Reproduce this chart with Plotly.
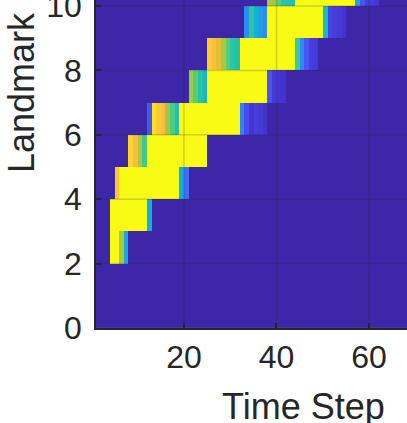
import plotly.graph_objects as go
import numpy as np

# time step edges (pcolor style: cells between integers) and landmark edges
time_edges = list(range(1, 70))
landmark_edges = list(range(0, 12))

x_ticks = [20, 40, 60]
y_ticks = [0, 2, 4, 6, 8, 10]

row_start = {
    2: 4,
    3: 4,
    4: 5,
    5: 8,
    6: 12,
    7: 21,
    8: 25,
    9: 33,
    10: 38,
}
row_values = {
    2: [1, 1, 0.72, 0.42],
    3: [1, 1, 1, 1, 1, 1, 1, 1, 0.42],
    4: [0.86, 1, 1, 1, 1, 1, 1, 1, 1, 1, 1, 1, 1, 1, 0.42, 0.22],
    5: [0.9, 0.84, 0.72, 0.58, 1, 1, 1, 1, 1, 1, 1, 1, 1, 1, 1, 1, 1],
    6: [0.15, 0.92, 0.88, 0.84, 0.7, 0.6, 0.52, 1, 1, 1, 1, 1, 1, 1, 1, 1,
        1, 1, 1, 1, 0.28, 0.12, 0.06, 0.08, 0.07, 0.05],
    7: [0.7, 0.62, 0.54, 0.47, 1, 1, 1, 1, 1, 1, 1, 1, 1, 1, 1, 1, 1,
        0.15, 0.07, 0.06, 0.05],
    8: [0.88, 0.84, 0.8, 0.72, 0.62, 0.55, 0.52, 1, 1, 1, 1, 1, 1, 1, 1,
        1, 1, 1, 1, 0.58, 0.3, 0.15, 0.08, 0.07],
    9: [0.3, 0.55, 0.45, 0.35, 0.3, 1, 1, 1, 1, 1, 1, 1, 1, 1, 1, 1, 1,
        0.5, 0.1, 0.08, 0.07, 0.05],
    10: [0.72, 0.7, 0.62, 0.55, 0.53, 0.52, 1, 1, 1, 1, 1, 1, 1, 1, 1, 1,
         1, 1, 1, 0.38, 0.15, 0.08, 0.08, 0.06],
}

z = np.zeros((len(landmark_edges) - 1, len(time_edges) - 1))
for row, vals in row_values.items():
    c0 = row_start[row] - time_edges[0]
    z[row, c0:c0 + len(vals)] = vals

# parula
parula = [
    (0.2422, 0.1504, 0.6603), (0.2706, 0.2147, 0.8364), (0.2813, 0.3006, 0.9414),
    (0.2699, 0.3892, 0.9906), (0.1963, 0.4847, 0.9892), (0.1687, 0.5703, 0.9359),
    (0.1248, 0.6459, 0.8883), (0.0297, 0.7082, 0.8163), (0.0964, 0.7500, 0.7120),
    (0.2161, 0.7843, 0.5923), (0.3909, 0.8029, 0.4354), (0.6174, 0.7876, 0.2612),
    (0.8203, 0.7498, 0.1535), (0.9728, 0.7298, 0.2394), (0.9892, 0.8136, 0.1885),
    (0.9628, 0.9373, 0.1265), (0.9769, 0.9839, 0.0805),
]
idx = [0, 4, 8, 12, 16, 20, 24, 28, 32, 36, 40, 44, 48, 52, 56, 60, 63]
colorscale = [[i / 63, "rgb(%d,%d,%d)" % tuple(round(v * 255) for v in c)]
              for i, c in zip(idx, parula)]

fig = go.Figure()
fig.add_trace(go.Heatmap(
    x=time_edges,
    y=landmark_edges,
    z=z,
    zmin=0,
    zmax=1,
    colorscale=colorscale,
    showscale=False,
    hoverinfo="skip",
))

# MATLAB draws the grid on top of the image
grid_color = "rgba(38,38,38,0.2)"
for t in x_ticks:
    fig.add_shape(type="line", xref="x", yref="paper", x0=t, x1=t, y0=0, y1=1,
                  line=dict(color=grid_color, width=1.5), layer="above")
for t in y_ticks[1:]:
    fig.add_shape(type="line", xref="paper", yref="y", x0=0, x1=1, y0=t, y1=t,
                  line=dict(color=grid_color, width=1.5), layer="above")

axis_style = dict(
    ticks="inside",
    ticklen=5,
    tickwidth=1.5,
    tickcolor="#262626",
    showline=True,
    linecolor="#262626",
    linewidth=1.5,
    showgrid=False,
    zeroline=False,
    automargin=False,
    ticklabeloverflow="allow",
    tickfont=dict(family="Liberation Sans, Arial", size=32, color="#262626"),
)
fig.update_xaxes(range=[1, 68.2], tickvals=x_ticks, **axis_style)
fig.update_yaxes(range=[0, 10.19], tickvals=y_ticks, ticklabelstandoff=6,
                 **axis_style)

title_font = dict(family="Liberation Sans, Arial", size=36, color="#262626")
fig.add_annotation(text="Time Step", xref="paper", yref="paper",
                   x=0.667, y=-0.17, xanchor="center", yanchor="top",
                   showarrow=False, font=title_font)
fig.add_annotation(text="Landmark", xref="paper", yref="paper",
                   x=-0.2395, y=0.718, xanchor="center", yanchor="middle",
                   textangle=-90, showarrow=False, font=title_font)

fig.update_layout(
    width=407,
    height=423,
    margin=dict(l=96, r=0, t=0, b=95),
    paper_bgcolor="white",
    plot_bgcolor="white",
    showlegend=False,
)

fig.write_html("out.html", config={"displayModeBar": False},
               post_script="document.body.style.margin = '0px';")
